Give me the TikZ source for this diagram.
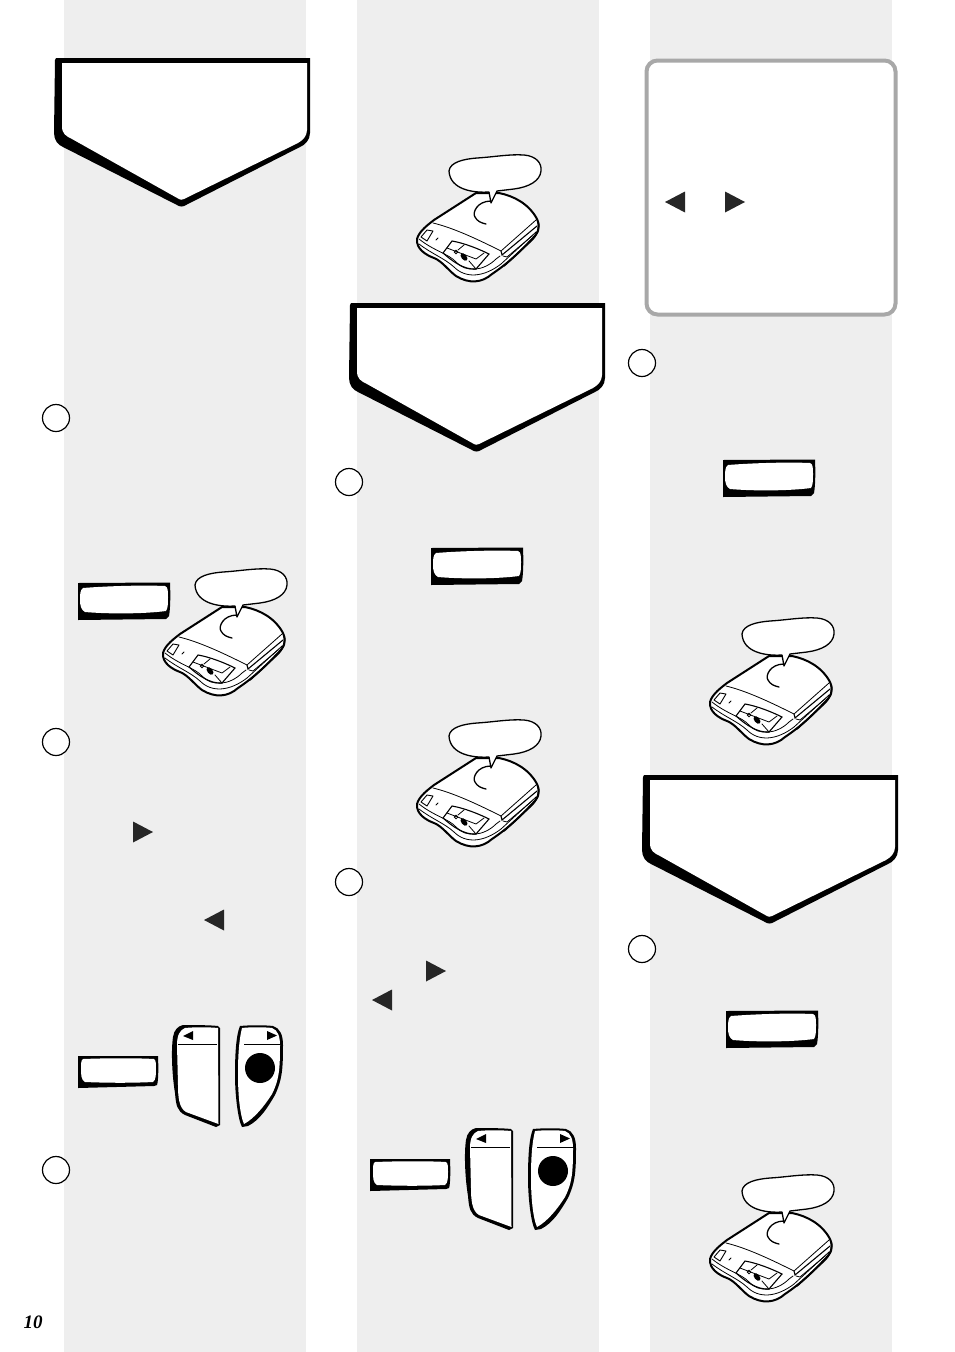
\documentclass[tikz,border=0pt]{standalone}
\usepackage{fontspec}
\setmainfont{Liberation Serif}
\usepackage{tikz}
\definecolor{panelgrey}{HTML}{EEEEEE}
\definecolor{framegrey}{HTML}{A8A8A8}
\tikzset{
	panel/.style={fill=panelgrey,draw=none},
	stepmark/.style={circle,draw=black,fill=white,line width=1.2pt,minimum size=27pt,inner sep=0pt},
	outline/.style={draw=black,fill=white,line width=1.3pt,line join=round},
	fineline/.style={draw=black,line width=.8pt,line cap=round},
	player/.pic={
		% body
		\path[outline,line width=2pt] (13,93) .. controls (15,85) and (25,78) .. (30,74) -- (72,47) -- (95,47)
			.. controls (110,50) and (125,58) .. (133,73) .. controls (137,82) and (134,87) .. (127,94)
			.. controls (112,110) and (100,120) .. (88,128) .. controls (78,137) and (65,138) .. (52,130)
			.. controls (45,125) and (38,115) .. (30,112) .. controls (22,109) and (12,103) .. (13,93) -- cycle;
		\draw[line width=1.6pt] (134,76) .. controls (136,84) and (133,89) .. (127,95) -- (100,120);
		% lid and hub
		\draw[fineline] (29,77) .. controls (50,82) and (75,94) .. (97,105) -- (132,74);
		\draw[fineline,line width=1.3pt] (87,55) .. controls (73,55) and (68,67) .. (71,71) .. controls (73,75) and (77,77) .. (82,78);
		\draw[fineline] (15,93) .. controls (30,105) and (45,108) .. (52,116) .. controls (62,127) and (80,125) .. (92,113) -- (96,110);
		\draw[fineline] (15,98) .. controls (28,108) and (40,112) .. (50,121) .. controls (62,133) and (80,131) .. (97,118) -- (132,86);
		% door and catch
		\path[outline,line width=.9pt] (17,91) -- (23,84) -- (29,85) -- (23,95) -- cycle;
		\draw[fineline] (32,94) -- (34,92);
		\draw[fineline,line width=1.1pt] (97,105) -- (98,109) -- (133,80);
		\draw[fineline] (99,110) -- (103,111) -- (128,90);
		% key panel
		\draw[fineline,line width=1.1pt] (39,107) -- (48,95) .. controls (60,97) and (75,103) .. (85,108) -- (72,123) .. controls (60,124) and (48,115) .. (39,107) -- cycle;
		\draw[fineline] (43,102) -- (72,113) -- (80,107) (60,99) -- (54,104) (65,115) -- (72,123);
		\draw[fineline] (52,106) circle (1.8);
		\fill[rotate around={40:(60,111)}] (60,111) ellipse (2.6 and 4.4);
		% bubble
		\path[outline] (45,25) .. controls (46,16) and (60,13) .. (73,12) .. controls (90,11) and (105,8) .. (120,9)
			.. controls (132,10) and (138,17) .. (137,25) .. controls (136,35) and (125,41) .. (110,43) -- (93,45) -- (87,57) -- (85,46)
			.. controls (70,47) and (46,44) .. (45,25) -- cycle;
	},
	banner/.pic={
		\fill (55,60) -- (56,58) -- (310,58) -- (310,133) .. controls (310,140) and (305,145) .. (300,147) -- (186,205)
			.. controls (183,207) and (180,207) .. (177,205) -- (63,147) .. controls (58,145) and (54,140) .. (54,133) -- cycle;
		\fill[white] (62,63) -- (307,63) -- (307,130) .. controls (307,136) and (303,140) .. (298,143) -- (184,199)
			.. controls (182,200) and (180,200) .. (179,199) -- (72,139) .. controls (66,136) and (62,134) .. (62,126) -- cycle;
	},
	lcd/.pic={
		\fill (0,0) -- (92,-.5) .. controls (92.5,10) and (92.5,25) .. (91,33) -- (88,36) -- (0,37) -- cycle;
		\fill[white] (5,5) .. controls (30,3) and (65,2) .. (87,3) .. controls (90,4) and (90,8) .. (90,14)
			.. controls (90,20) and (90,25) .. (88,28) .. controls (65,31) and (30,31) .. (7,29)
			.. controls (3,27) and (2,22) .. (2,17) .. controls (2,12) and (2,7) .. (5,5) -- cycle;
	},
	lcdsmall/.pic={
		\fill (0,0) -- (80,0) .. controls (80.5,10) and (80.5,25) .. (79,29) -- (76,30) -- (0,32) -- cycle;
		\fill[white] (5,3) .. controls (30,2) and (60,2) .. (76,3) .. controls (78,4) and (78,8) .. (78,13)
			.. controls (78,18) and (78,24) .. (75,26) .. controls (55,27) and (30,27) .. (7,26)
			.. controls (3,24) and (3,18) .. (3,13) .. controls (3,8) and (3,4) .. (5,3) -- cycle;
	},
	keypair/.pic={
		% left key
		\fill (113,10) .. controls (120,10) and (140,10) .. (148,11) -- (150,13) -- (150,110) -- (146,112) -- (115,100)
			.. controls (107,96) and (106,90) .. (105,78) .. controls (102,60) and (101,35) .. (103,22) .. controls (104,15) and (108,11) .. (113,10) -- cycle;
		\fill[white] (115,13) .. controls (125,12) and (138,12) .. (148,13) -- (148.5,109) -- (116,97)
			.. controls (109,93) and (108,82) .. (108,70) -- (107,30) .. controls (107,20) and (110,15) .. (115,13) -- cycle;
		\draw[line width=1pt] (108,29) -- (147,29);
		\fill (113,21) -- (123,16) -- (123,25) -- cycle;
		% right key
		\fill (170,11) .. controls (180,10) and (195,10) .. (203,11) .. controls (210,13) and (213,20) .. (213,30)
			.. controls (213,55) and (212,65) .. (205,80) .. controls (198,92) and (190,105) .. (178,111) -- (172,112)
			.. controls (168,105) and (165,80) .. (165,60) .. controls (165,40) and (166,20) .. (170,11) -- cycle;
		\fill[white] (172,13) .. controls (180,12) and (195,12) .. (202,13) .. controls (208,15) and (210,22) .. (210,30)
			.. controls (210,55) and (209,65) .. (202,79) .. controls (195,90) and (185,103) .. (174,109)
			.. controls (170,100) and (168,80) .. (168,60) .. controls (168,40) and (169,25) .. (172,13) -- cycle;
		\draw[line width=1pt] (174,29) -- (210,29);
		\fill (207,20.5) -- (197,16) -- (197,25) -- cycle;
		\fill (190,53) circle (15);
	},
	arrowright/.pic={\fill[black!85] (-10,-10.5) -- (10,0) -- (-10,10.5) -- cycle;},
	arrowleft/.pic={\fill[black!85] (10,-10.5) -- (-10,0) -- (10,10.5) -- cycle;},
}
\begin{document}
\begin{tikzpicture}[x=1pt,y=-1pt]
	\useasboundingbox (0,0) rectangle (954,1352);
	\fill[white] (0,0) rectangle (954,1352);

	% columns
	\path[panel] (64,0) rectangle (306,1352);
	\path[panel] (357,0) rectangle (599,1352);
	\path[panel] (650,0) rectangle (892,1352);

	% note frame
	\draw[draw=framegrey,fill=white,line width=4pt,rounded corners=11pt] (646.5,60.5) rectangle (895.5,314.5);

	% banners
	\pic at (0,0) {banner};
	\pic at (295,245) {banner};
	\pic at (588,717) {banner};

	% step marks
	\node[stepmark] (m1) at (56,418) {};
	\node[stepmark] (m2) at (56,742) {};
	\node[stepmark] (m3) at (56,1170) {};
	\node[stepmark] (m4) at (349,482) {};
	\node[stepmark] (m5) at (349,882) {};
	\node[stepmark] (m6) at (642,363) {};
	\node[stepmark] (m7) at (642,949) {};

	% players
	\pic at (150,560) {player};
	\pic at (404,146) {player};
	\pic at (404,711) {player};
	\pic at (697,609) {player};
	\pic at (697,1166) {player};

	% displays
	\pic at (78,583) {lcd};
	\pic at (431,548) {lcd};
	\pic at (723,460) {lcd};
	\pic at (726,1011) {lcd};
	\pic at (78,1056) {lcdsmall};
	\pic at (370,1159) {lcdsmall};

	% keys
	\pic at (70,1015) {keypair};
	\pic at (363,1118) {keypair};

	% arrows
	\pic at (143,832) {arrowright};
	\pic at (214,920) {arrowleft};
	\pic at (436,971) {arrowright};
	\pic at (382,1000) {arrowleft};
	\pic at (675,202) {arrowleft};
	\pic at (735,202) {arrowright};

	\node[font=\fontsize{19}{19}\selectfont\bfseries\itshape] (pageno) at (33,1322) {10};
\end{tikzpicture}
\end{document}
